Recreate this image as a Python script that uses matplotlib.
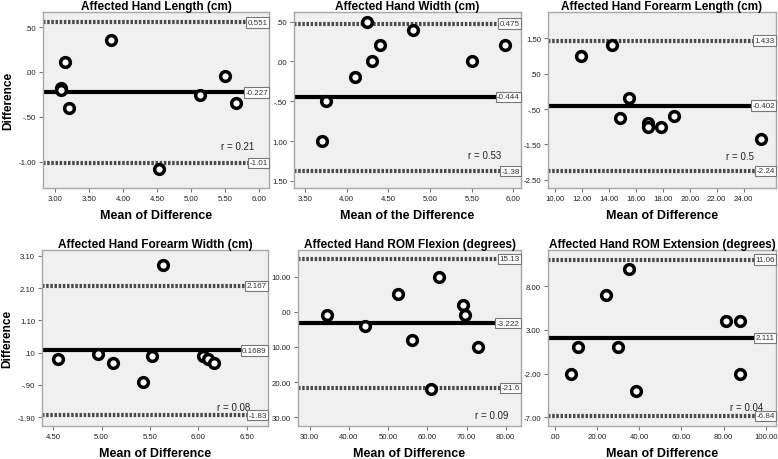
import matplotlib
matplotlib.use("Agg")
import matplotlib.pyplot as plt

plt.rcParams['font.family'] = ['Liberation Sans', 'DejaVu Sans']

W, H = 778, 460

titles = ["Affected Hand Length (cm)", "Affected Hand Width (cm)", "Affected Hand Forearm Length (cm)",
          "Affected Hand Forearm Width (cm)", "Affected Hand ROM Flexion (degrees)", "Affected Hand ROM Extension (degrees)"]
xlabels = ["Mean of Difference", "Mean of the Difference", "Mean of Difference",
           "Mean of Difference", "Mean of Difference", "Mean of Difference"]

# Points (mean, difference)
len_x = [3.08, 3.09, 3.15, 3.20, 3.82, 4.53, 5.12, 5.50, 5.66]
len_y = [-0.18, -0.20, 0.11, -0.40, 0.36, -1.08, -0.26, -0.04, -0.35]
wid_x = [3.70, 3.75, 4.10, 4.25, 4.30, 4.40, 4.80, 5.50, 5.90]
wid_y = [-1.00, -0.50, -0.20, 0.50, 0.00, 0.20, 0.40, 0.00, 0.20]
fal_x = [11.9, 14.2, 14.8, 15.5, 16.9, 16.9, 17.9, 18.8, 25.3]
fal_y = [1.00, 1.30, -0.75, -0.20, -0.90, -1.00, -1.00, -0.70, -1.36]
faw_x = [4.55, 4.96, 5.12, 5.43, 5.52, 5.63, 6.05, 6.10, 6.16]
faw_y = [-0.11, 0.07, -0.21, -0.81, 0.00, 2.81, 0.00, -0.11, -0.21]
flx_x = [34.5, 44.0, 52.5, 56.0, 61.0, 63.0, 69.0, 69.5, 73.0]
flx_y = [-1.0, -4.0, 5.0, -8.0, -22.0, 10.0, 2.0, -1.0, -10.0]
ext_x = [7.6, 11.0, 24.0, 30.0, 35.0, 38.5, 81.0, 88.0, 88.0]
ext_y = [-2.0, 1.0, 7.0, 1.0, 10.0, -4.0, 4.0, 4.0, -2.0]

# Mean, upper and lower limits of agreement
means = [-0.227, -0.444, -0.402, 0.1689, -3.222, 2.111]
uppers = [0.551, 0.475, 1.433, 2.167, 15.13, 11.06]
lowers = [-1.01, -1.38, -2.24, -1.83, -21.6, -6.84]
mean_labels = ["-0.227", "-0.444", "-0.402", "0.1689", "-3.222", "2.111"]
upper_labels = ["0.551", "0.475", "1.433", "2.167", "15.13", "11.06"]
lower_labels = ["-1.01", "-1.38", "-2.24", "-1.83", "-21.6", "-6.84"]
r_labels = ["r = 0.21", "r = 0.53", "r = 0.5", "r = 0.08", "r = 0.09", "r = 0.04"]

# Tick values and labels
xticks = [[3.0, 3.5, 4.0, 4.5, 5.0, 5.5, 6.0],
          [3.5, 4.0, 4.5, 5.0, 5.5, 6.0],
          [10, 12, 14, 16, 18, 20, 22, 24],
          [4.5, 5.0, 5.5, 6.0, 6.5],
          [30, 40, 50, 60, 70, 80],
          [0, 20, 40, 60, 80, 100]]
xticklabels = [["3.00", "3.50", "4.00", "4.50", "5.00", "5.50", "6.00"],
               ["3.50", "4.00", "4.50", "5.00", "5.50", "6.00"],
               ["10.00", "12.00", "14.00", "16.00", "18.00", "20.00", "22.00", "24.00"],
               ["4.50", "5.00", "5.50", "6.00", "6.50"],
               ["30.00", "40.00", "50.00", "60.00", "70.00", "80.00"],
               [".00", "20.00", "40.00", "60.00", "80.00", "100.00"]]
yticks = [[0.5, 0.0, -0.5, -1.0],
          [0.5, 0.0, -0.5, -1.0, -1.5],
          [1.5, 0.5, -0.5, -1.5, -2.5],
          [3.1, 2.1, 1.1, 0.1, -0.9, -1.9],
          [10, 0, -10, -20, -30],
          [8, 3, -2, -7]]
yticklabels = [[".50", ".00", "-.50", "-1.00"],
               [".50", ".00", "-.50", "1.00", "1.50"],
               ["1.50", ".50", "-.50", "-1.50", "-2.50"],
               ["3.10", "2.10", "1.10", ".10", "-.90", "-1.90"],
               ["10.00", ".00", "10.00", "20.00", "30.00"],
               ["8.00", "3.00", "-2.00", "-7.00"]]

xs = [len_x, wid_x, fal_x, faw_x, flx_x, ext_x]
ys = [len_y, wid_y, fal_y, faw_y, flx_y, ext_y]

# Layout (pixel boxes) and axis limits
boxes = [(43, 13, 269, 189), (294, 13, 521, 189), (548, 13, 776, 189),
         (42, 251, 268, 427), (298, 251, 521, 427), (548, 251, 776, 427)]
xlims = [(2.82, 6.14), (3.37, 6.09), (9.48, 26.4), (4.383, 6.72), (27.0, 83.9), (-3.3, 104.9)]
ylims = [(-1.29, 0.667), (-1.59, 0.62), (-2.73, 2.24), (-2.17, 3.28), (-32.5, 17.6), (-8.0, 12.16)]
r_pos = [(0.86, 0.24), (0.84, 0.19), (0.84, 0.18), (0.85, 0.11), (0.87, 0.06), (0.87, 0.11)]

fig = plt.figure(figsize=(W / 100, H / 100), dpi=100)

for i in range(6):
    x0, y0, x1, y1 = boxes[i]
    ax = fig.add_axes([x0 / W, 1 - y1 / H, (x1 - x0) / W, (y1 - y0) / H])
    ax.set_facecolor('#f0f0f0')
    for s in ax.spines.values():
        s.set_color('#a8a8a8')
        s.set_linewidth(1.0)
    ax.set_xlim(*xlims[i])
    ax.set_ylim(*ylims[i])

    ax.axhline(means[i], color='black', lw=3.0, zorder=2)
    for v in (uppers[i], lowers[i]):
        ax.axhline(v, color='#4a4a4a', lw=3.0, ls=(0, (0.6, 0.4)), zorder=2)

    ax.plot(xs[i], ys[i], 'o', ms=7, mfc='white', mec='black', mew=2.5, zorder=3)

    for v, lab in ((uppers[i], upper_labels[i]), (means[i], mean_labels[i]), (lowers[i], lower_labels[i])):
        ax.annotate(lab, xy=(0.995, v), xycoords=('axes fraction', 'data'),
                    ha='right', va='center', fontsize=5.8, color='#333333', zorder=4,
                    bbox=dict(boxstyle='square,pad=0.2', fc='white', ec='#777777', lw=0.8))

    ax.text(r_pos[i][0], r_pos[i][1], r_labels[i], transform=ax.transAxes,
            ha='center', va='center', fontsize=7, color='#222222')

    ax.set_xticks(xticks[i])
    ax.set_xticklabels(xticklabels[i])
    ax.set_yticks(yticks[i])
    ax.set_yticklabels(yticklabels[i])
    ax.tick_params(axis='both', length=3, width=0.8, color='#777777', labelsize=5.6,
                   labelcolor='#222222', pad=2)

    ax.set_title(titles[i], fontsize=8.5, fontweight='bold', pad=2.5)
    ax.set_xlabel(xlabels[i], fontsize=9, fontweight='bold', labelpad=5)
    if i in (0, 3):
        ax.set_ylabel("Difference", fontsize=8.6, fontweight='bold', labelpad=3)

fig.savefig('out.png', dpi=100)
